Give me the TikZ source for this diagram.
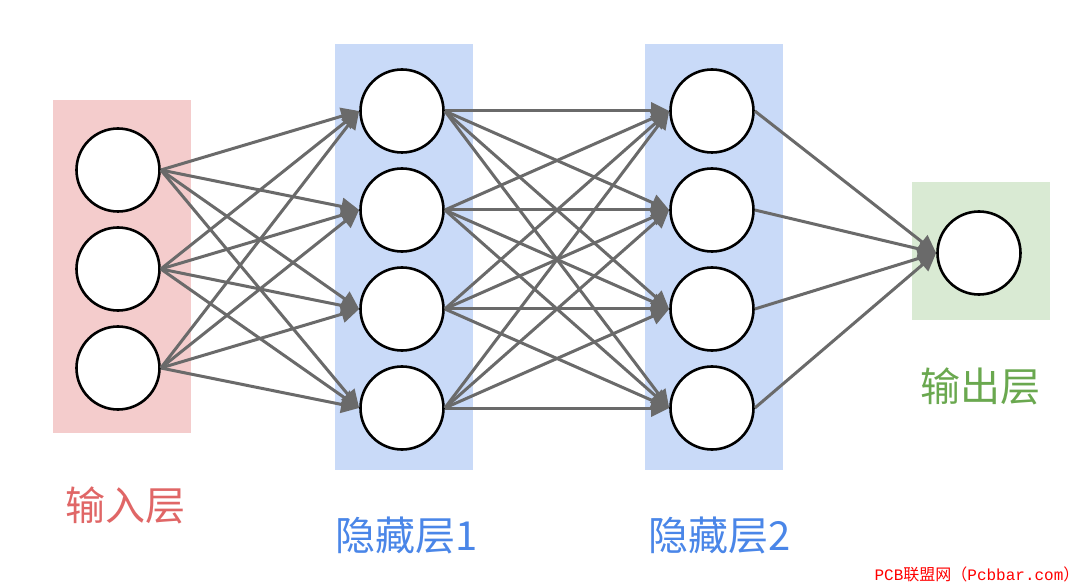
\documentclass[tikz,border=0pt]{standalone}
\usepackage{fontspec}
\newfontfamily\cjk{Noto Sans CJK SC}
\newfontfamily\monofont{Liberation Mono}
\usetikzlibrary{arrows.meta}
\pgfdeclarelayer{bg}
\pgfsetlayers{bg,main}
\definecolor{inbg}{HTML}{F4CCCC}
\definecolor{hidbg}{HTML}{C9DAF8}
\definecolor{outbg}{HTML}{D9EAD3}
\definecolor{intxt}{HTML}{E06666}
\definecolor{hidtxt}{HTML}{4A86E8}
\definecolor{outtxt}{HTML}{6AA84F}
\definecolor{conngray}{HTML}{6A6A6A}
\definecolor{wmred}{HTML}{FF0000}
\begin{document}
\begin{tikzpicture}[x=1pt,y=-1pt,
  neuron/.style={circle,draw=black,line width=2.6pt,fill=white,minimum size=83pt,inner sep=0pt},
  conn/.style={draw=conngray,line width=3pt,-{Triangle[length=18pt,width=17pt]}},
  layerbox/.style={inner sep=0pt,draw=none,minimum width=138pt},
  lbl/.style={font=\cjk\fontsize{40}{44}\selectfont,inner sep=0pt},
  wm/.style={font=\fontsize{16}{18}\selectfont,text=wmred,inner sep=0pt}]
\useasboundingbox (0,0) rectangle (1080,588);
% neurons
\node[neuron] (i1) at (118,170) {};
\node[neuron] (i2) at (118,269) {};
\node[neuron] (i3) at (118,368) {};
\node[neuron] (h1) at (402,111) {};
\node[neuron] (h2) at (402,210) {};
\node[neuron] (h3) at (402,309) {};
\node[neuron] (h4) at (402,408) {};
\node[neuron] (g1) at (712,111) {};
\node[neuron] (g2) at (712,210) {};
\node[neuron] (g3) at (712,309) {};
\node[neuron] (g4) at (712,408) {};
\node[neuron] (o) at (979,253) {};
% layer backgrounds
\begin{pgfonlayer}{bg}
\fill[white] (0,0) rectangle (1080,588);
\node[layerbox,fill=inbg,minimum height=333pt] (inbox) at (122,266.5) {};
\node[layerbox,fill=hidbg,minimum height=426pt] (h1box) at (404,257) {};
\node[layerbox,fill=hidbg,minimum height=426pt] (h2box) at (714,257) {};
\node[layerbox,fill=outbg,minimum height=138pt] (outbox) at (981,251) {};
\end{pgfonlayer}
% connections
\foreach \a in {1,2,3}{\foreach \b in {1,2,3,4}{\draw[conn] (i\a.east) -- (h\b.west);}}
\foreach \a in {1,2,3,4}{\foreach \b in {1,2,3,4}{\draw[conn] (h\a.east) -- (g\b.west);}}
\foreach \a in {1,2,3,4}{\draw[conn] (g\a.east) -- (o.west);}
% labels
\node[lbl,text=intxt] (lin) at (125,505) {输入层};
\node[lbl,text=hidtxt] (lh1) at (407,535) {隐藏层1};
\node[lbl,text=hidtxt] (lh2) at (720,535) {隐藏层2};
\node[lbl,text=outtxt] (lout) at (980,386) {输出层};
\node[wm] (wmark) at (977,574) {{\monofont PCB}{\cjk 联盟网（}{\monofont Pcbbar.com}{\cjk ）}};
\end{tikzpicture}
\end{document}
